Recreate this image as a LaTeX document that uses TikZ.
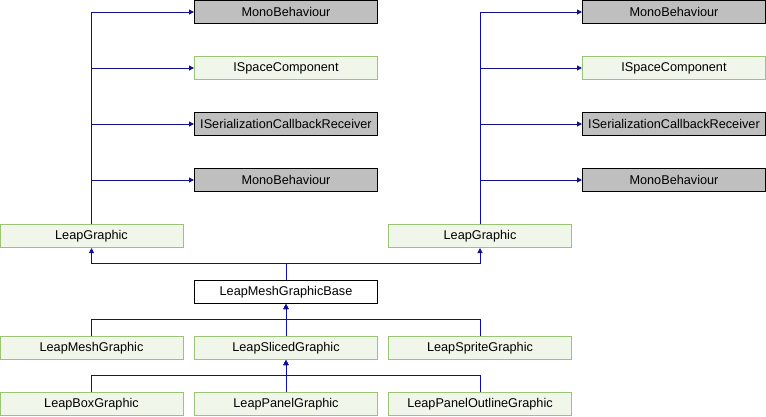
\documentclass[tikz,border=0pt]{standalone}
\usepackage{fontspec}
\setmainfont{Liberation Sans}
\usepackage{tikz}
\usetikzlibrary{positioning,arrows.meta}

\definecolor{edgeblue}{RGB}{16,16,150}
\definecolor{docfill}{RGB}{240,246,234}
\definecolor{docline}{RGB}{155,196,118}
\definecolor{sysfill}{RGB}{191,191,191}

\begin{document}
\begin{tikzpicture}[
  x=1pt, y=-1pt,
  font=\fontsize{12.7}{14}\selectfont,
  >={Triangle[length=5pt,width=5pt]},
  clsnode/.style={rectangle, draw=black, fill=white, line width=1pt, minimum width=183pt, minimum height=23pt, inner sep=0pt},
  extnode/.style={clsnode, draw=docline, fill=docfill},
  sysnode/.style={clsnode, fill=sysfill},
  inh/.style={->, draw=edgeblue, line width=1pt}
]
  \useasboundingbox (0,0) rectangle (766,416);
  % left parent chain
  \node[sysnode] (mbA1) at (286,12) {MonoBehaviour};
  \node[extnode] (iscA) at (286,68) {ISpaceComponent};
  \node[sysnode] (iscbA) at (286,124) {ISerializationCallbackReceiver};
  \node[sysnode] (mbA2) at (286,180) {MonoBehaviour};
  \node[extnode] (lgA) at (91.5,236) {LeapGraphic};
  % right parent chain
  \node[sysnode] (mbB1) at (674,12) {MonoBehaviour};
  \node[extnode] (iscB) at (674,68) {ISpaceComponent};
  \node[sysnode] (iscbB) at (674,124) {ISerializationCallbackReceiver};
  \node[sysnode] (mbB2) at (674,180) {MonoBehaviour};
  \node[extnode] (lgB) at (480,236) {LeapGraphic};
  % class and children
  \node[clsnode] (lmgb) at (286,292) {LeapMeshGraphicBase};
  \node[extnode] (lmg) at (91.5,348) {LeapMeshGraphic};
  \node[extnode] (lsg) at (286,348) {LeapSlicedGraphic};
  \node[extnode] (lspg) at (480,348) {LeapSpriteGraphic};
  \node[extnode] (lbg) at (91.5,404) {LeapBoxGraphic};
  \node[extnode] (lpg) at (286,404) {LeapPanelGraphic};
  \node[extnode] (lpog) at (480,404) {LeapPanelOutlineGraphic};

  \foreach \p in {mbA1,iscA,iscbA,mbA2} \draw[inh] (lgA.north) |- (\p.west);
  \foreach \p in {mbB1,iscB,iscbB,mbB2} \draw[inh] (lgB.north) |- (\p.west);
  \draw[inh] (lmgb.north) -- ++(0,-16.5) -| (lgA.south);
  \draw[inh] (lmgb.north) -- ++(0,-16.5) -| (lgB.south);
  \draw[inh] (lmg.north) -- ++(0,-16.5) -| (lmgb.south);
  \draw[inh] (lsg.north) -- (lmgb.south);
  \draw[inh] (lspg.north) -- ++(0,-16.5) -| (lmgb.south);
  \draw[inh] (lbg.north) -- ++(0,-16.5) -| (lsg.south);
  \draw[inh] (lpg.north) -- (lsg.south);
  \draw[inh] (lpog.north) -- ++(0,-16.5) -| (lsg.south);
\end{tikzpicture}
\end{document}
